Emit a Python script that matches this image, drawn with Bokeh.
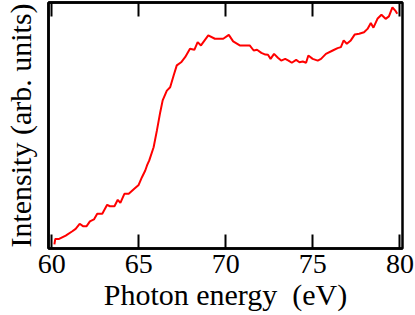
from bokeh.plotting import figure
from bokeh.models import Range1d, LinearAxis, FixedTicker
from bokeh.embed import file_html
from bokeh.resources import INLINE

energy = [60.15, 60.20, 60.42, 60.80, 61.18, 61.37, 61.60, 61.79, 62.00, 62.19,
          62.42, 62.61, 62.90, 63.18, 63.34, 63.60, 63.79, 63.94, 64.17, 64.42,
          64.74, 64.99, 65.18, 65.37, 65.47, 65.60, 65.85, 66.04, 66.23, 66.37,
          66.61, 66.80, 67.00, 67.18, 67.43, 67.66, 67.94, 68.19, 68.38, 68.57,
          68.99, 69.37, 69.85, 70.17, 70.42, 70.80, 71.37, 71.60, 71.79, 72.04,
          72.27, 72.42, 72.57, 72.77, 72.99, 73.18, 73.41, 73.60, 73.79, 74.04,
          74.23, 74.42, 74.61, 74.74, 74.99, 75.28, 75.47, 75.75, 76.14, 76.42,
          76.61, 76.77, 76.95, 77.18, 77.41, 77.66, 77.94, 78.14, 78.33, 78.48,
          78.71, 78.94, 79.18, 79.37, 79.57, 79.76, 79.85]
intensity = [0.017, 0.040, 0.040, 0.054, 0.072, 0.082, 0.103, 0.093, 0.093, 0.113,
             0.121, 0.145, 0.145, 0.182, 0.176, 0.176, 0.203, 0.190, 0.228, 0.228,
             0.249, 0.265, 0.297, 0.325, 0.346, 0.367, 0.422, 0.492, 0.568, 0.617,
             0.658, 0.672, 0.721, 0.763, 0.776, 0.797, 0.832, 0.828, 0.860, 0.846,
             0.888, 0.874, 0.874, 0.890, 0.863, 0.846, 0.846, 0.825, 0.828, 0.815,
             0.808, 0.807, 0.790, 0.811, 0.795, 0.783, 0.790, 0.783, 0.774, 0.786,
             0.776, 0.779, 0.774, 0.804, 0.790, 0.783, 0.790, 0.811, 0.825, 0.835,
             0.839, 0.867, 0.853, 0.867, 0.892, 0.895, 0.901, 0.915, 0.940, 0.920,
             0.957, 0.974, 0.957, 0.967, 1.005, 0.989, 0.978]
x_ticks = [60, 65, 70, 75, 80]

FONT = "Liberation Serif"

p = figure(width=415, height=315, output_backend="svg", toolbar_location=None,
           x_range=Range1d(59.81, 80.15), y_range=Range1d(0, 1.025),
           min_border_left=46, min_border_right=13, min_border_top=2,
           min_border_bottom=67, x_axis_location="below")
p.styles = {"position": "absolute", "left": "0px", "top": "0px"}

p.grid.visible = False
p.outline_line_color = "black"
p.outline_line_width = 2.5
p.background_fill_color = "white"
p.border_fill_color = "white"

xa = p.xaxis[0]
xa.ticker = FixedTicker(ticks=x_ticks)
xa.major_tick_in = 14
xa.major_tick_out = 0
xa.minor_tick_line_color = None
xa.major_tick_line_width = 2
xa.axis_line_width = 2.5
xa.major_label_text_font = FONT
xa.major_label_text_font_size = "28px"
xa.major_label_text_color = "black"
xa.major_label_standoff = 6
xa.axis_label = "Photon energy\u00a0 (eV)"
xa.axis_label_text_font = FONT
xa.axis_label_text_font_size = "30px"
xa.axis_label_text_font_style = "normal"
xa.axis_label_text_color = "black"
xa.axis_label_standoff = 2

top = LinearAxis(ticker=FixedTicker(ticks=x_ticks))
top.major_tick_in = 14
top.major_tick_out = 0
top.minor_tick_line_color = None
top.major_tick_line_width = 2
top.axis_line_width = 2.5
top.major_label_text_font_size = "1px"
top.major_label_text_color = None
top.major_label_standoff = 0
p.add_layout(top, "above")

ya = p.yaxis[0]
ya.ticker = FixedTicker(ticks=[])
ya.major_tick_line_color = None
ya.minor_tick_line_color = None
ya.major_label_text_font_size = "1px"
ya.major_label_text_color = None
ya.axis_line_width = 2.5
ya.axis_label = "Intensity (arb. units)"
ya.axis_label_text_font = FONT
ya.axis_label_text_font_size = "30px"
ya.axis_label_text_font_style = "normal"
ya.axis_label_text_color = "black"
ya.axis_label_standoff = 12

p.line(energy, intensity, line_color="red", line_width=2)

open("out.html", "w").write(file_html(p, INLINE))
